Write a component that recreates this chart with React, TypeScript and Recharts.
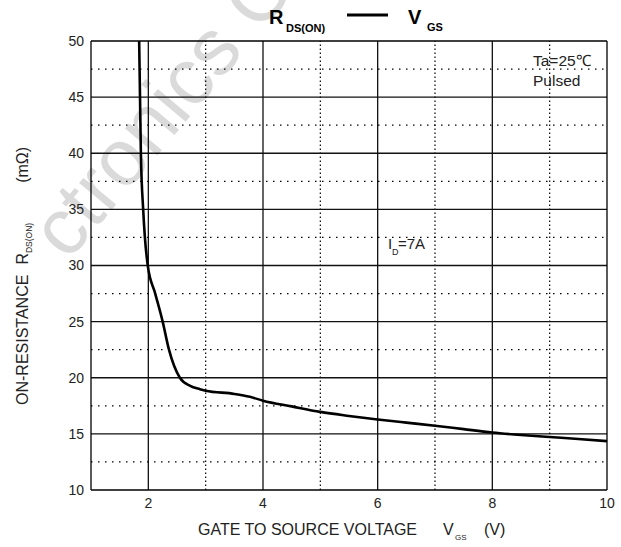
import React from 'react';
import { LineChart, Line, XAxis, YAxis, ReferenceLine } from 'recharts';

// curve
const vgs = [1.84, 1.855, 1.87, 1.91, 1.94, 1.99, 2.12, 2.25, 2.36, 2.55, 2.73, 2.9, 3.0, 3.5, 3.77, 4.0, 4.5, 5, 5.5, 6, 6.5, 7, 7.5, 8, 8.5, 9, 9.5, 10];
const rdsOn = [50, 45, 40, 35, 32.5, 30, 27.5, 25, 22.5, 20, 19.27, 18.98, 18.85, 18.56, 18.3, 17.96, 17.45, 16.96, 16.6, 16.28, 16.0, 15.73, 15.42, 15.12, 14.9, 14.72, 14.55, 14.35];

const xTicks = [2, 4, 6, 8, 10];
const yTicks = [10, 15, 20, 25, 30, 35, 40, 45, 50];
const xMajor = [2, 4, 6, 8];
const xMinor = [3, 5, 7, 9];
const yMajor = [15, 20, 25, 30, 35, 40, 45];
const yMinor = [12.5, 17.5, 22.5, 27.5, 32.5, 37.5, 42.5, 47.5];

const data = vgs.map((v, i) => ({ vgs: v, r: rdsOn[i] }));

const FONT = '"Liberation Sans", Arial, sans-serif';
const W = 621;
const H = 547;

const App: React.FC = () => {
  return (
    <div style={{ position: 'absolute', left: 0, top: 0, width: W, height: H, background: '#fff', fontFamily: FONT, overflow: 'hidden' }}>
      {/* faint watermark behind the chart */}
      <svg width={W} height={H} style={{ position: 'absolute', left: 0, top: 0 }}>
        <text
          transform="translate(68,262) rotate(-50)"
          fontFamily={FONT}
          fontSize={80}
          fill="#dadada"
        >
          ctronics Co
        </text>
      </svg>

      <div style={{ position: 'absolute', left: 0, top: 0 }}>
        <LineChart width={W} height={H} data={data} margin={{ top: 41, right: 14, bottom: 0, left: 0 }}>
          <XAxis
            dataKey="vgs"
            type="number"
            domain={[1, 10]}
            ticks={xTicks}
            height={57}
            tickLine={false}
            tickMargin={2}
            axisLine={{ stroke: '#000', strokeWidth: 1.3 }}
            tick={{ fill: '#222', fontSize: 14, fontFamily: FONT }}
            allowDataOverflow
          />
          <YAxis
            type="number"
            domain={[10, 50]}
            ticks={yTicks}
            width={91}
            tickLine={false}
            tickMargin={1}
            axisLine={{ stroke: '#000', strokeWidth: 1.3 }}
            tick={{ fill: '#222', fontSize: 14, fontFamily: FONT }}
            allowDataOverflow
          />
          {xMinor.map(x => (
            <ReferenceLine key={'xm' + x} x={x} stroke="#000" strokeWidth={1.2} strokeDasharray="1.5 2.5" />
          ))}
          {yMinor.map(y => (
            <ReferenceLine key={'ym' + y} y={y} stroke="#000" strokeWidth={1.2} strokeDasharray="1.5 5.5" />
          ))}
          {xMajor.map(x => (
            <ReferenceLine key={'xM' + x} x={x} stroke="#111" strokeWidth={1.3} />
          ))}
          {yMajor.map(y => (
            <ReferenceLine key={'yM' + y} y={y} stroke="#111" strokeWidth={1.3} />
          ))}
          <ReferenceLine x={10} stroke="#000" strokeWidth={1.3} />
          <ReferenceLine y={50} stroke="#000" strokeWidth={1.3} />
          <Line
            type="monotone"
            dataKey="r"
            stroke="#000"
            strokeWidth={2.6}
            dot={false}
            isAnimationActive={false}
          />
        </LineChart>
      </div>

      {/* titles and notes */}
      <svg width={W} height={H} style={{ position: 'absolute', left: 0, top: 0, pointerEvents: 'none' }}>
        <g fontFamily={FONT} fontWeight="bold" fill="#000">
          <text x={269} y={24} fontSize={20}>R</text>
          <text x={286} y={32} fontSize={11}>DS(ON)</text>
          <line x1={347} y1={15} x2={388} y2={15} stroke="#000" strokeWidth={3} />
          <text x={408} y={24} fontSize={20}>V</text>
          <text x={427} y={31} fontSize={11}>GS</text>
        </g>

        <g fontFamily={FONT} fill="#222">
          <text x={198} y={535} fontSize={16}>GATE TO SOURCE VOLTAGE</text>
          <text x={443} y={535} fontSize={16}>V</text>
          <text x={455} y={540} fontSize={8}>GS</text>
          <text x={484} y={535} fontSize={16}>(V)</text>

          <text transform="translate(28,405) rotate(-90)" fontSize={16}>
            ON-RESISTANCE
            <tspan dx={10}>R</tspan>
            <tspan dy={4} fontSize={8.5}>DS(ON)</tspan>
            <tspan dy={-4} dx={40}>(mΩ)</tspan>
          </text>

          <text x={533} y={66} fontSize={15.5}>Ta=25℃</text>
          <text x={533} y={86} fontSize={15.5}>Pulsed</text>

          <text x={388} y={249} fontSize={15}>I</text>
          <text x={392} y={255} fontSize={9}>D</text>
          <text x={398} y={249} fontSize={15}>=7A</text>
        </g>
      </svg>
    </div>
  );
};

export default App;
